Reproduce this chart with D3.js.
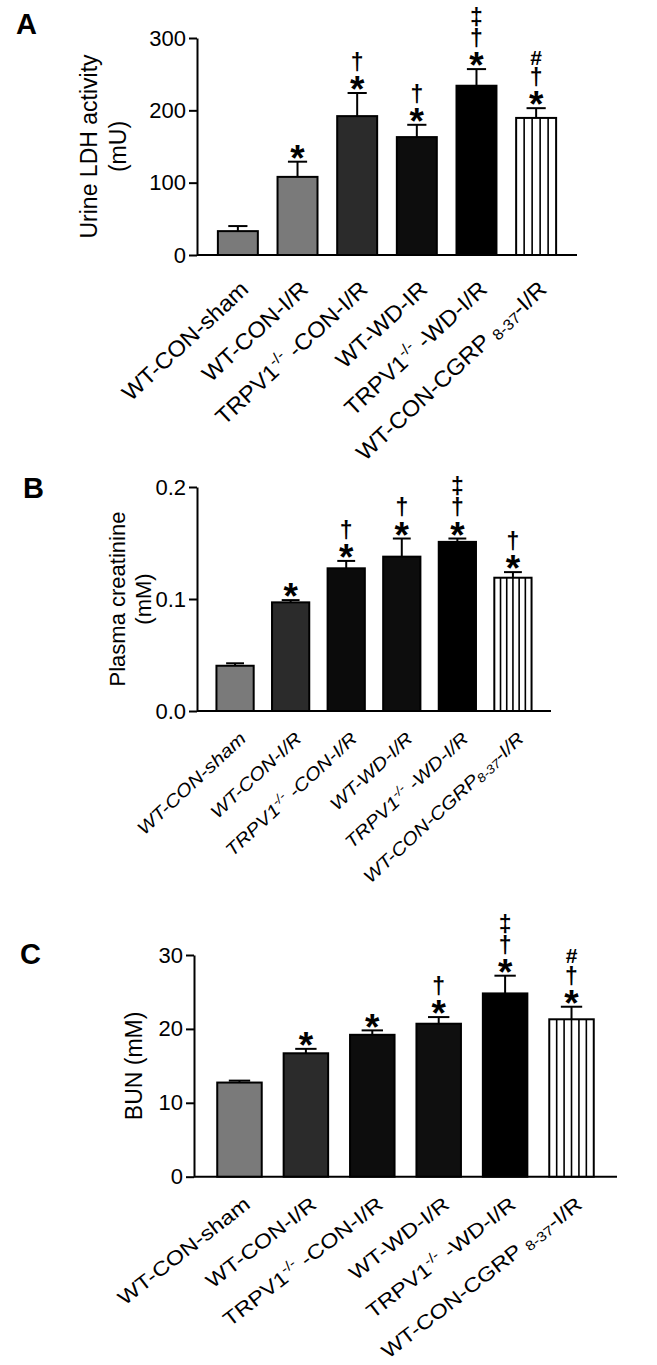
<!DOCTYPE html>
<html>
<head>
  <title>Renal injury markers</title>
  <script src="https://cdn.jsdelivr.net/npm/d3@7"></script>
  <style>
    body { margin: 0; background: #fff; }
    text { font-family: "Liberation Sans", Arial, sans-serif; }
  </style>
</head>
<body>
  <svg width="657" height="1365" id="mainsvg"></svg>
  <script>
    const svg = d3.select('svg');

    // ---- data ----
    // ^{..} = superscript, _{..} = subscript
    const labelsA = ['WT-CON-sham', 'WT-CON-I/R', 'TRPV1^{-/-} -CON-I/R', 'WT-WD-IR', 'TRPV1^{-/-} -WD-I/R', 'WT-CON-CGRP _{8-37}-I/R'];
    const labelsB = ['WT-CON-sham', 'WT-CON-I/R', 'TRPV1^{-/-} -CON-I/R', 'WT-WD-I/R', 'TRPV1^{-/-} -WD-I/R', 'WT-CON-CGRP_{8-37}-I/R'];
    const labelsC = ['WT-CON-sham', 'WT-CON-I/R', 'TRPV1^{-/-} -CON-I/R', 'WT-WD-I/R', 'TRPV1^{-/-} -WD-I/R', 'WT-CON-CGRP _{8-37}-I/R'];

    const ldh = [33, 108, 192, 163, 234, 189.5];
    const ldhErr = [7, 21, 32, 17, 23, 13.5];
    const creat = [0.0404, 0.097, 0.1274, 0.1378, 0.151, 0.119];
    const creatErr = [0.0022, 0.002, 0.0066, 0.0162, 0.003, 0.005];
    const bun = [12.74, 16.7, 19.2, 20.7, 24.8, 21.3];
    const bunErr = [0.26, 0.6, 0.6, 0.9, 2.4, 1.7];

    const sigA = [[], ['*'], ['*', '†'], ['*', '†'], ['*', '†', '‡'], ['*', '†', '#']];
    const sigB = [[], ['*'], ['*', '†'], ['*', '†'], ['*', '†', '‡'], ['*', '†']];
    const sigC = [[], ['*'], ['*'], ['*', '†'], ['*', '†', '‡'], ['*', '†', '#']];

    const ticksA = [0, 100, 200, 300];
    const ticksB = [0, 0.1, 0.2];
    const ticksC = [0, 10, 20, 30];

    // bar fills (last one is the striped bar)
    const fillsA = ['#7a7a7a', '#7a7a7a', '#2b2b2b', '#0d0d0d', '#000', 'stripe'];
    const fillsB = ['#7a7a7a', '#2b2b2b', '#0b0b0b', '#0d0d0d', '#000', 'stripe'];
    const fillsC = ['#7a7a7a', '#2b2b2b', '#0d0d0d', '#0f0f0f', '#000', 'stripe'];

    // symbol font size and baseline offset (em) to centre each glyph
    const symSize = {'*': 37, '†': 23, '‡': 23, '#': 21};
    const symShift = {'*': 0.49, '†': 0.30, '‡': 0.30, '#': 0.35};

    function addRichText(sel, str, fs) {
      const parts = str.split(/(\^\{[^}]*\}|_\{[^}]*\})/).filter(s => s.length);
      let shift = 0;
      parts.forEach(s => {
        if (s.startsWith('^{') || s.startsWith('_{')) {
          const sup = s[0] === '^';
          const d = sup ? -fs * 0.4 : fs * 0.12;
          sel.append('tspan').attr('font-size', fs * 0.68).attr('dy', d).text(s.slice(2, -1));
          shift = -d;
        } else {
          sel.append('tspan').attr('dy', shift).text(s);
          shift = 0;
        }
      });
    }

    function drawPanel(p) {
      const g = svg.append('g');
      const n = p.values.length;
      const x = d3.scaleBand().domain(d3.range(n)).range([p.x0, p.x1])
        .paddingInner(0.33).paddingOuter(0.35);
      const y = d3.scaleLinear().domain([p.ticks[0], p.ticks[p.ticks.length - 1]]).range([p.y0, p.y1]);
      const bw = x.bandwidth();

      // panel letter
      g.append('text').attr('x', p.letterX).attr('y', p.letterY)
        .attr('font-size', 29).attr('font-weight', 'bold').text(p.letter);

      // y axis
      const yAxis = d3.axisLeft(y).tickValues(p.ticks).tickFormat(p.fmt)
        .tickSize(8).tickSizeOuter(0).tickPadding(3);
      const ya = g.append('g').attr('transform', `translate(${p.x0},0)`).call(yAxis);
      ya.select('.domain').attr('stroke', '#000').attr('stroke-width', 2);
      ya.selectAll('.tick line').attr('stroke', '#000').attr('stroke-width', 2);
      ya.selectAll('.tick text').attr('font-size', 22).attr('fill', '#000')
        .attr('font-family', '"Liberation Sans", Arial, sans-serif');

      // x axis line
      g.append('line').attr('x1', p.x0).attr('x2', p.x1).attr('y1', y(0)).attr('y2', y(0))
        .attr('stroke', '#000').attr('stroke-width', 2);

      // y title (one or two lines)
      const cy = (p.y0 + p.y1) / 2;
      p.yTitle.forEach((t, k) => {
        g.append('text')
          .attr('transform', `translate(${p.titleX[k]},${cy}) rotate(-90)`)
          .attr('text-anchor', 'middle').attr('font-size', p.titleFs).text(t);
      });

      // bars
      g.selectAll('.bar').data(p.values).join('rect')
        .attr('class', 'bar')
        .attr('x', (d, i) => x(i)).attr('width', bw)
        .attr('y', d => y(d)).attr('height', d => y(0) - y(d))
        .attr('fill', (d, i) => p.fills[i] === 'stripe' ? '#fff' : p.fills[i])
        .attr('stroke', '#000').attr('stroke-width', 2);

      // stripes
      p.values.forEach((v, i) => {
        if (p.fills[i] !== 'stripe') return;
        d3.range(1, p.stripes).forEach(k => {
          const sx = x(i) + k * bw / p.stripes;
          g.append('line').attr('x1', sx).attr('x2', sx).attr('y1', y(v)).attr('y2', y(0))
            .attr('stroke', '#000').attr('stroke-width', 1.6);
        });
      });

      // error bars (upper only)
      const cw = bw * 0.48;
      p.values.forEach((v, i) => {
        const cx = x(i) + bw / 2;
        const top = y(v + p.errs[i]);
        g.append('line').attr('x1', cx).attr('x2', cx).attr('y1', y(v)).attr('y2', top)
          .attr('stroke', '#000').attr('stroke-width', 2);
        g.append('line').attr('x1', cx - cw / 2).attr('x2', cx + cw / 2).attr('y1', top).attr('y2', top)
          .attr('stroke', '#000').attr('stroke-width', 2);
        // significance symbols stacked above
        p.sig[i].forEach((s, k) => {
          const fs = symSize[s];
          const c = top - 9 - k * 21;
          g.append('text').attr('x', cx).attr('y', c + symShift[s] * fs)
            .attr('text-anchor', 'middle').attr('font-weight', 'bold')
            .attr('font-size', fs).text(s);
        });
      });

      // rotated category labels
      p.labels.forEach((lab, i) => {
        const t = g.append('text')
          .attr('transform', `translate(${x(i) + bw / 2 + p.labDx},${y(0) + p.labDy}) rotate(${-p.angle}) scale(${p.stretch},1)`)
          .attr('text-anchor', 'end').attr('font-size', p.labFs)
          .attr('font-style', p.italic ? 'italic' : 'normal');
        addRichText(t, lab, p.labFs);
      });
    }

    drawPanel({
      letter: 'A', letterX: 16, letterY: 34,
      values: ldh, errs: ldhErr, sig: sigA, fills: fillsA, labels: labelsA,
      ticks: ticksA, fmt: d3.format('d'),
      x0: 197, x1: 577, y0: 255, y1: 38,
      yTitle: ['Urine LDH activity', '(mU)'], titleX: [97, 126], titleFs: 23,
      stripes: 5, labFs: 22.5, angle: 43, stretch: 1.06, labDx: 12, labDy: 36, italic: false
    });

    drawPanel({
      letter: 'B', letterX: 23, letterY: 498,
      values: creat, errs: creatErr, sig: sigB, fills: fillsB, labels: labelsB,
      ticks: ticksB, fmt: d3.format('.1f'),
      x0: 197, x1: 551, y0: 711, y1: 487,
      yTitle: ['Plasma creatinine', '(mM)'], titleX: [125, 151], titleFs: 22,
      stripes: 6, labFs: 18, angle: 43, stretch: 1.15, labDx: 12, labDy: 29, italic: true
    });

    drawPanel({
      letter: 'C', letterX: 20, letterY: 964,
      values: bun, errs: bunErr, sig: sigC, fills: fillsC, labels: labelsC,
      ticks: ticksC, fmt: d3.format('d'),
      x0: 194, x1: 617, y0: 1176.7, y1: 955,
      yTitle: ['BUN (mM)'], titleX: [142], titleFs: 23,
      stripes: 6, labFs: 20, angle: 38, stretch: 1.18, labDx: 12, labDy: 30, italic: false
    });
  </script>
</body>
</html>
